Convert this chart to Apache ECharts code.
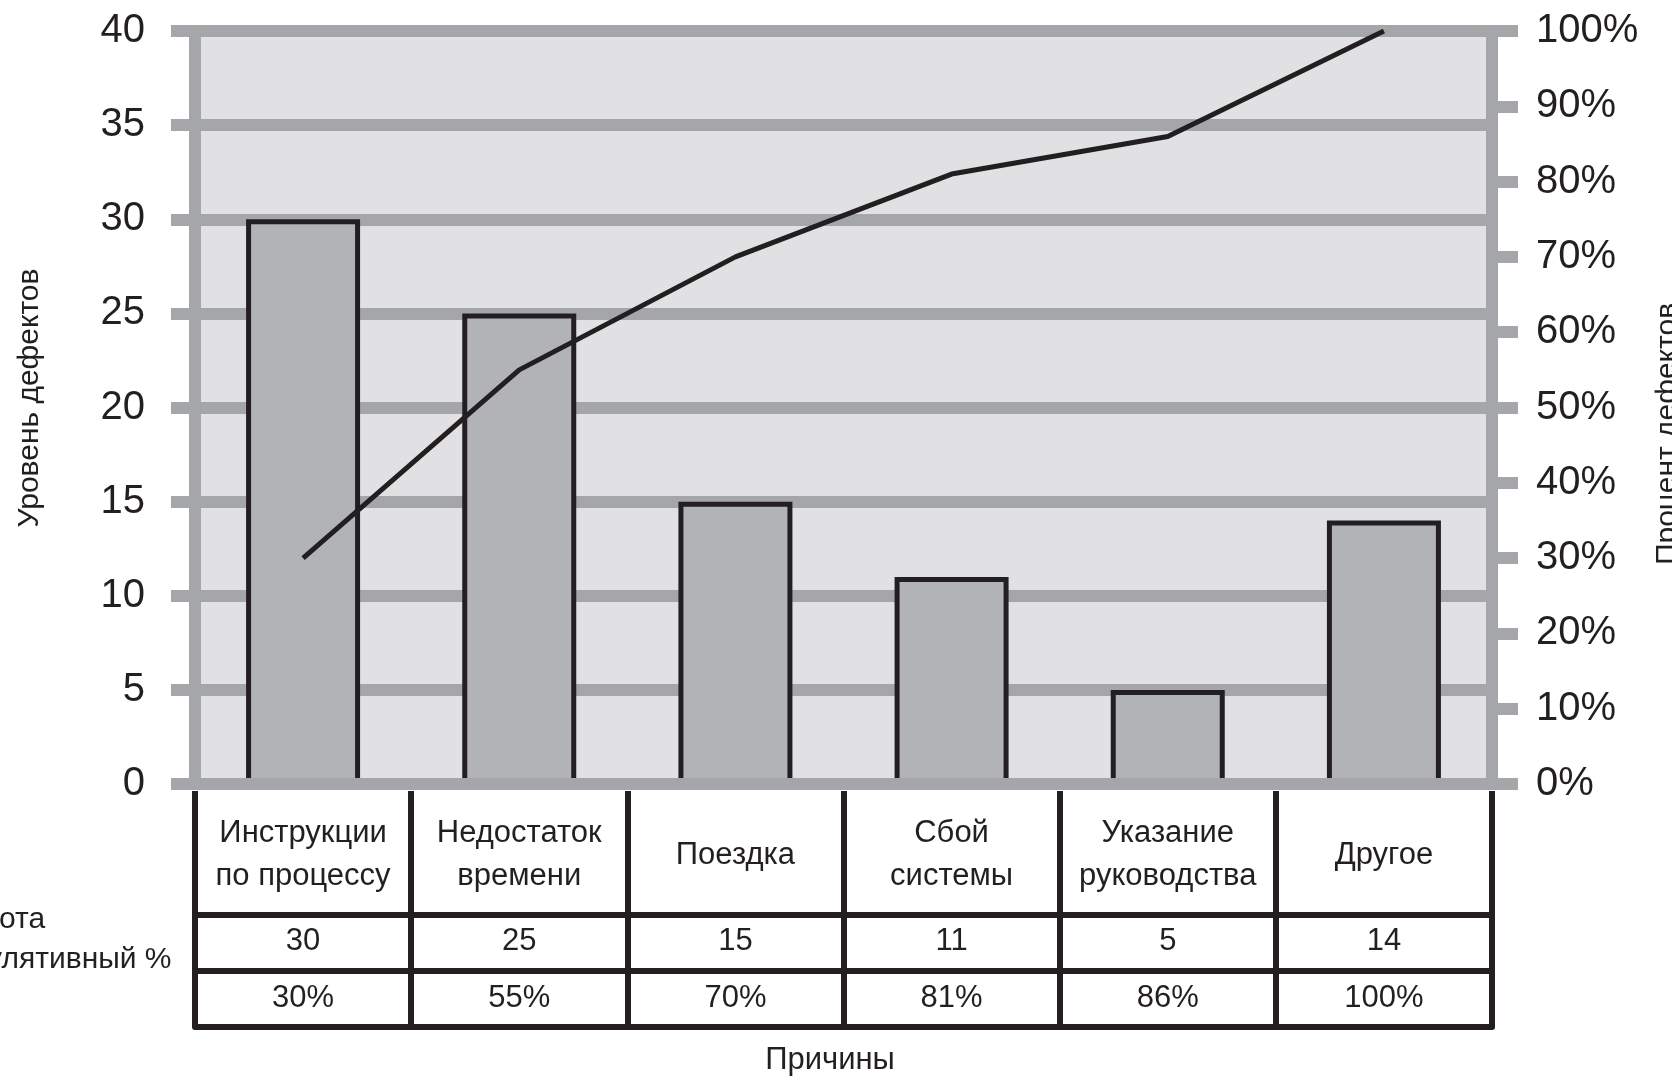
<!DOCTYPE html>
<html>
<head>
<meta charset="utf-8">
<title>Причины дефектов — диаграмма Парето</title>
<script src="https://cdn.jsdelivr.net/npm/echarts@6/dist/echarts.min.js"></script>
<style>
  html, body { margin: 0; padding: 0; background: #ffffff; }
  #chart { width: 1672px; height: 1076px; }
</style>
</head>
<body>
<div id="chart"></div>
<script>
// Причины дефектов, их частота и кумулятивный процент
const causes = [
  'Инструкции\nпо процессу',
  'Недостаток\nвремени',
  'Поездка',
  'Сбой\nсистемы',
  'Указание\nруководства',
  'Другое'
];
const counts = [30, 25, 15, 11, 5, 14];
const cumulativePct = [30, 55, 70, 81, 86, 100];

const leftTicks = { min: 0, max: 40, interval: 5 };
const rightTicks = { min: 0, max: 100, interval: 10 };

const FONT = 'Liberation Sans, Arial, sans-serif';
const INK = '#231f20';
const AXIS_GRAY = '#a5a6a9';
const PLOT_BG = '#e1e1e3';
const BAR_FILL = '#b2b3b6';

const chart = echarts.init(document.getElementById('chart'), null, { renderer: 'canvas' });

// one table row under the plot, built as an extra category axis
function tableRow(offset, labels, margin, withLine, tickLen) {
  return {
    type: 'category',
    data: labels,
    position: 'bottom',
    offset: offset,
    boundaryGap: true,
    axisLine: { show: withLine, onZero: false, lineStyle: { color: INK, width: 6 } },
    axisTick: { show: tickLen > 0, interval: 0, length: tickLen, lineStyle: { color: INK, width: 6 } },
    axisLabel: {
      show: true, interval: 0, margin: margin, verticalAlign: 'middle',
      fontFamily: FONT, fontSize: 31, lineHeight: 43, color: INK
    },
    splitLine: { show: false }
  };
}

const option = {
  backgroundColor: '#ffffff',
  animation: false,
  grid: {
    left: 195, right: 180, top: 31, bottom: 292,
    show: true, backgroundColor: PLOT_BG, borderWidth: 0
  },
  xAxis: [
    {
      type: 'category',
      data: causes,
      position: 'bottom',
      boundaryGap: true,
      z: 3,
      axisLine: { show: true, onZero: false, lineStyle: { color: AXIS_GRAY, width: 12 } },
      axisTick: { show: false },
      axisLabel: { show: false },
      splitLine: { show: false }
    },
    tableRow(7, causes, 64, false, 124),
    tableRow(131, counts.map(String), 26, true, 56),
    tableRow(187, cumulativePct.map(v => v + '%'), 27, true, 56),
    tableRow(243, causes.map(() => ''), 0, true, 0)
  ],
  yAxis: [
    {
      type: 'value',
      min: leftTicks.min, max: leftTicks.max, interval: leftTicks.interval,
      position: 'left',
      axisLine: { show: true, onZero: false, lineStyle: { color: AXIS_GRAY, width: 12 } },
      axisTick: { show: true, length: 24, lineStyle: { color: AXIS_GRAY, width: 12 } },
      axisLabel: { margin: 50, fontFamily: FONT, fontSize: 40, color: INK },
      splitLine: { show: true, lineStyle: { color: AXIS_GRAY, width: 12 } }
    },
    {
      type: 'value',
      min: rightTicks.min, max: rightTicks.max, interval: rightTicks.interval,
      position: 'right',
      axisLine: { show: true, onZero: false, lineStyle: { color: AXIS_GRAY, width: 12 } },
      axisTick: { show: true, length: 26, lineStyle: { color: AXIS_GRAY, width: 12 } },
      axisLabel: { margin: 44, fontFamily: FONT, fontSize: 40, color: INK, formatter: '{value}%' },
      splitLine: { show: false }
    }
  ],
  series: [
    {
      name: 'Частота',
      type: 'bar',
      xAxisIndex: 0,
      yAxisIndex: 0,
      data: counts,
      barWidth: 114,
      z: 2,
      itemStyle: { color: BAR_FILL, borderColor: INK, borderWidth: 5 }
    },
    {
      name: 'Кумулятивный %',
      type: 'line',
      xAxisIndex: 0,
      yAxisIndex: 1,
      data: cumulativePct,
      symbol: 'none',
      smooth: false,
      z: 5,
      lineStyle: { color: INK, width: 5 }
    }
  ],
  graphic: [
    {
      type: 'text', x: 30, y: 398, rotation: Math.PI / 2,
      style: {
        text: 'Уровень дефектов', font: '30px ' + FONT, fill: INK,
        align: 'center', verticalAlign: 'middle', textAlign: 'center', textVerticalAlign: 'middle'
      }
    },
    {
      type: 'text', x: 1668, y: 434, rotation: Math.PI / 2,
      style: {
        text: 'Процент дефектов', font: '30px ' + FONT, fill: INK,
        align: 'center', verticalAlign: 'middle', textAlign: 'center', textVerticalAlign: 'middle'
      }
    },
    {
      type: 'text', x: 830, y: 1060,
      style: {
        text: 'Причины', font: '31px ' + FONT, fill: INK,
        align: 'center', verticalAlign: 'middle', textAlign: 'center', textVerticalAlign: 'middle'
      }
    },
    {
      type: 'text', x: -66, y: 920,
      style: {
        text: 'Частота', font: '30px ' + FONT, fill: INK,
        align: 'left', verticalAlign: 'middle', textAlign: 'left', textVerticalAlign: 'middle'
      }
    },
    {
      type: 'text', x: -66, y: 960,
      style: {
        text: 'Кумулятивный %', font: '30px ' + FONT, fill: INK,
        align: 'left', verticalAlign: 'middle', textAlign: 'left', textVerticalAlign: 'middle'
      }
    }
  ]
};

chart.setOption(option);
</script>
</body>
</html>
